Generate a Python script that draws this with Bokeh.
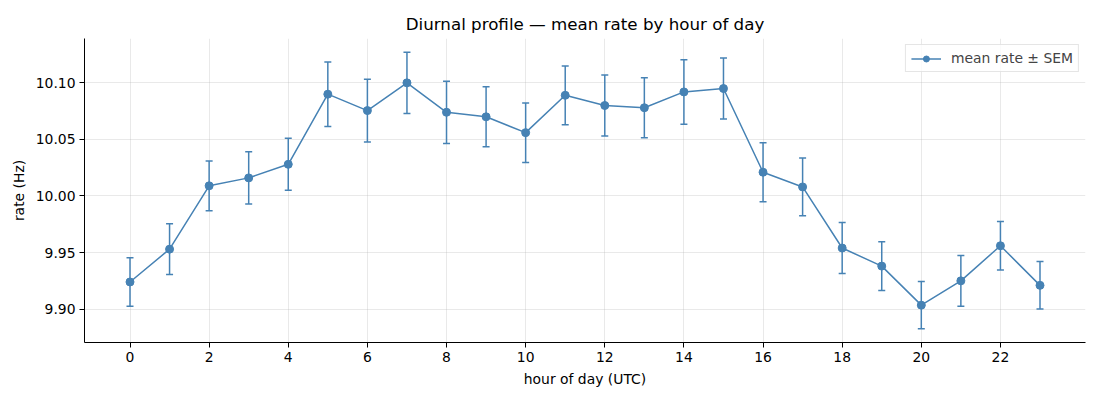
from bokeh.plotting import figure
from bokeh.models import ColumnDataSource, Whisker, TeeHead, FixedTicker, Legend, LegendItem, PrintfTickFormatter, Range1d
from bokeh.embed import file_html
from bokeh.resources import INLINE

hours = list(range(24))
mean_rate = [9.924, 9.953, 10.009, 10.016, 10.028, 10.090, 10.0755, 10.100,
             10.074, 10.070, 10.056, 10.089, 10.080, 10.078, 10.092, 10.095,
             10.021, 10.008, 9.954, 9.938, 9.9035, 9.925, 9.956, 9.921]
sem = [0.0215, 0.0225, 0.022, 0.023, 0.023, 0.0285, 0.0278, 0.027,
       0.0275, 0.0265, 0.0263, 0.026, 0.027, 0.0265, 0.0285, 0.027,
       0.026, 0.0255, 0.0225, 0.0215, 0.0208, 0.0225, 0.0215, 0.021]
x_ticks = [0, 2, 4, 6, 8, 10, 12, 14, 16, 18, 20, 22]
y_ticks = [9.90, 9.95, 10.00, 10.05, 10.10]

color = "#4682b4"
FONT = "DejaVu Sans"

src = ColumnDataSource(dict(
    x=hours, y=mean_rate,
    lo=[m - s for m, s in zip(mean_rate, sem)],
    hi=[m + s for m, s in zip(mean_rate, sem)],
))

lo_all = min(src.data["lo"]); hi_all = max(src.data["hi"])
pad_y = 0.05 * (hi_all - lo_all)
pad_x = 0.05 * (max(hours) - min(hours))

p = figure(frame_width=1001, frame_height=304, output_backend="svg", toolbar_location=None,
           x_range=Range1d(min(hours) - pad_x, max(hours) + pad_x),
           y_range=Range1d(lo_all - pad_y, hi_all + pad_y),
           min_border_left=84, min_border_top=38, min_border_right=14, min_border_bottom=56,
           title="Diurnal profile — mean rate by hour of day")

p.title.align = "center"
p.title.text_font = FONT
p.title.text_font_size = "16.7px"
p.title.text_font_style = "normal"
p.title.text_color = "#000000"
p.outline_line_color = None

for ax in (p.xaxis[0], p.yaxis[0]):
    ax.axis_line_color = "#000000"
    ax.axis_line_width = 1
    ax.major_tick_line_color = "#000000"
    ax.major_tick_out = 5
    ax.major_tick_in = 0
    ax.minor_tick_line_color = None
    ax.major_label_text_font = FONT
    ax.major_label_text_font_size = "13.9px"
    ax.major_label_text_color = "#000000"
    ax.axis_label_text_font = FONT
    ax.axis_label_text_font_size = "13.9px"
    ax.axis_label_text_font_style = "normal"
    ax.axis_label_text_color = "#000000"
    ax.major_label_standoff = 4
    ax.axis_label_standoff = 6

p.xaxis.axis_label = "hour of day (UTC)"
p.yaxis.axis_label = "rate (Hz)"
p.xaxis.ticker = FixedTicker(ticks=x_ticks)
p.yaxis.ticker = FixedTicker(ticks=y_ticks)
p.yaxis.formatter = PrintfTickFormatter(format="%.2f")

p.grid.grid_line_color = "#b0b0b0"
p.grid.grid_line_alpha = 0.35
p.grid.grid_line_width = 0.8

wh = Whisker(source=src, base="x", lower="lo", upper="hi", dimension="height",
             line_color=color, line_width=1.5,
             upper_head=TeeHead(size=7, line_color=color, line_width=1.5),
             lower_head=TeeHead(size=7, line_color=color, line_width=1.5))
p.add_layout(wh)

ln = p.line("x", "y", source=src, line_color=color, line_width=1.5)
sc = p.scatter("x", "y", source=src, size=8, fill_color=color, line_color=color, marker="circle")

legend = Legend(items=[LegendItem(label="mean rate ± SEM", renderers=[ln, sc])],
                location="top_right", margin=6, padding=5, spacing=0,
                glyph_width=30, glyph_height=15, label_height=15,
                label_text_font=FONT, label_text_font_size="13.9px",
                label_standoff=10,
                border_line_color="#cccccc", border_line_width=1,
                background_fill_alpha=0.8)
p.add_layout(legend)

open("out.html", "w").write(file_html(p, INLINE))
